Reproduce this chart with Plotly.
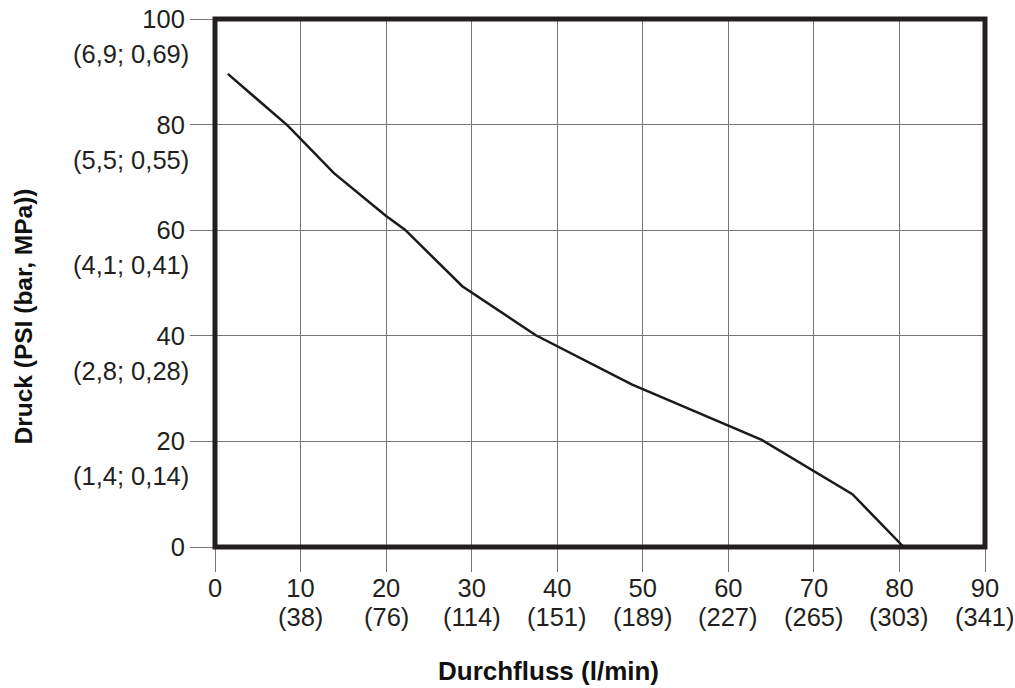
import plotly.graph_objects as go

# pump curve: flow (GPM) vs pressure (PSI)
flow = [1.5, 8.5, 13.9, 20.0, 22.2, 28.9, 37.5, 48.7, 63.9, 74.5, 80.5]
pressure = [89.6, 79.8, 70.8, 62.7, 60.1, 49.4, 40.1, 30.8, 20.3, 10.0, 0.0]

# tick labels
x_ticks = [0, 10, 20, 30, 40, 50, 60, 70, 80, 90]
x_sub = ["", "(38)", "(76)", "(114)", "(151)", "(189)", "(227)", "(265)", "(303)", "(341)"]
y_ticks = [0, 20, 40, 60, 80, 100]
y_sub = ["", "(1,4; 0,14)", "(2,8; 0,28)", "(4,1; 0,41)", "(5,5; 0,55)", "(6,9; 0,69)"]

font_family = "Liberation Sans, Arial, sans-serif"
fs = 25.5
text_col = "#231f20"

fig = go.Figure()
fig.add_trace(go.Scatter(x=flow, y=pressure, mode="lines",
                         line=dict(color="#1a1a1a", width=2.5),
                         showlegend=False, hoverinfo="x+y"))

# second lines of the tick labels (l/min, bar/MPa)
for xv, txt in zip(x_ticks, x_sub):
    if txt:
        fig.add_annotation(x=xv, y=0, xref="x", yref="paper", text=txt,
                           showarrow=False, yanchor="top", yshift=-54,
                           font=dict(size=fs, color=text_col))
for yv, txt in zip(y_ticks, y_sub):
    if txt:
        fig.add_annotation(x=0, y=yv, xref="paper", yref="y", text=txt,
                           showarrow=False, xanchor="right", xshift=-24,
                           yshift=-35, font=dict(size=fs, color=text_col))

# axis titles (placed like in the original, a bit off-centre)
fig.add_annotation(x=0.4325, y=0, xref="paper", yref="paper",
                   text="<b>Durchfluss (l/min)</b>", showarrow=False,
                   yanchor="middle", yshift=-124,
                   font=dict(size=26, color="#111"))
fig.add_annotation(x=0, y=0.4366, xref="paper", yref="paper",
                   text="<b>Druck (PSI (bar, MPa))</b>", showarrow=False,
                   textangle=-90, xanchor="center", xshift=-192,
                   font=dict(size=24.5, color="#111"))

# thick frame around the plot area
fig.add_shape(type="rect", xref="paper", yref="paper", x0=0, y0=0, x1=1, y1=1,
              line=dict(color="#231f20", width=5), layer="above")

fig.update_layout(
    width=1015, height=688,
    margin=dict(l=215, r=30, t=19, b=141),
    plot_bgcolor="white", paper_bgcolor="white",
    font=dict(family=font_family, size=fs, color=text_col),
    xaxis=dict(range=[0, 90], tickvals=x_ticks, ticktext=[str(v) for v in x_ticks],
               ticks="outside", ticklen=24, tickcolor="#777", tickwidth=1,
               ticklabelstandoff=-6, ticklabeloverflow="allow",
               showgrid=True, gridcolor="#777", gridwidth=1,
               zeroline=False, showline=False, automargin=False),
    yaxis=dict(range=[0, 100], tickvals=y_ticks, ticktext=[str(v) for v in y_ticks],
               ticks="outside", ticklen=24, tickcolor="#777", tickwidth=1,
               ticklabeloverflow="allow",
               showgrid=True, gridcolor="#777", gridwidth=1,
               zeroline=False, showline=False, automargin=False),
)

# drop the default page margin so the figure sits at the window's corner
fig.write_html("out.html", config={"displayModeBar": False},
               post_script="document.body.style.margin='0';"
                           "document.body.style.overflow='hidden';")
